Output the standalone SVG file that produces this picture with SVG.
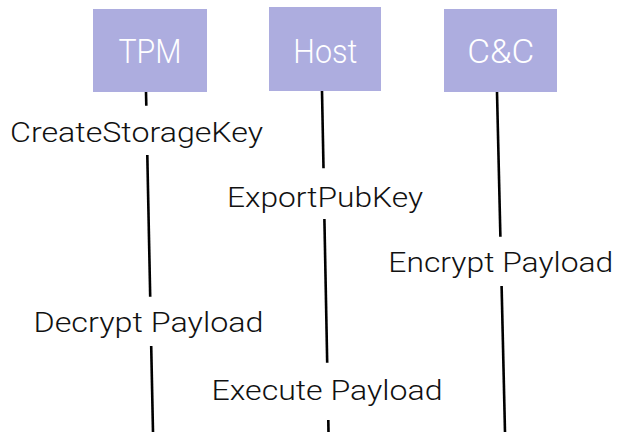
<svg xmlns="http://www.w3.org/2000/svg" width="617" height="432" viewBox="0 0 617 432">
  <style>
    .actor rect { fill: #ADADDF; }
    .actor text { fill: #FFFFFF; font-family: "Roboto", "Helvetica Neue", "Liberation Sans", Arial, sans-serif; font-weight: 300; font-size: 33px; text-anchor: middle; }
    .step text { fill: #111111; font-family: "Roboto", "Helvetica Neue", "Liberation Sans", Arial, sans-serif; font-weight: 300; font-size: 28px; }
    .lifeline line { stroke: #000000; stroke-width: 2.6; stroke-linecap: butt; }
  </style>

  <rect width="617" height="432" fill="#FFFFFF"/>

  <!-- lifelines, broken where the step labels sit -->
  <g id="connectors" class="lifeline">
    <line x1="146" y1="92" x2="146.3" y2="105.7"/>
    <line x1="147.3" y1="155" x2="150.2" y2="296.7"/>
    <line x1="151.2" y1="346" x2="153" y2="432"/>

    <line x1="322" y1="91" x2="323.5" y2="168.3"/>
    <line x1="324.4" y1="219" x2="327.2" y2="362.7"/>
    <line x1="328.3" y1="420" x2="328.5" y2="432"/>

    <line x1="497" y1="92" x2="500.4" y2="236.7"/>
    <line x1="501.6" y1="286" x2="505" y2="432"/>
  </g>

  <!-- participants -->
  <g id="tpm" class="actor">
    <rect x="93" y="9" width="114" height="83"/>
    <text x="150" y="63.3" textLength="63" lengthAdjust="spacingAndGlyphs">TPM</text>
  </g>
  <g id="host" class="actor">
    <rect x="269" y="7" width="112" height="84"/>
    <text x="325.3" y="62.5" textLength="64" lengthAdjust="spacingAndGlyphs">Host</text>
  </g>
  <g id="cnc" class="actor">
    <rect x="444" y="9" width="113" height="83"/>
    <text x="500.7" y="63.3" textLength="67" lengthAdjust="spacingAndGlyphs">C&amp;C</text>
  </g>

  <!-- steps -->
  <g id="create-storage-key" class="step">
    <text x="10" y="141.7" textLength="253" lengthAdjust="spacingAndGlyphs">CreateStorageKey</text>
  </g>
  <g id="export-pub-key" class="step">
    <text x="227" y="206.7" textLength="196" lengthAdjust="spacingAndGlyphs">ExportPubKey</text>
  </g>
  <g id="encrypt-payload" class="step">
    <text x="388.3" y="272" textLength="225" lengthAdjust="spacingAndGlyphs">Encrypt Payload</text>
  </g>
  <g id="decrypt-payload" class="step">
    <text x="33.5" y="332.3" textLength="230" lengthAdjust="spacingAndGlyphs">Decrypt Payload</text>
  </g>
  <g id="execute-payload" class="step">
    <text x="211.5" y="399.5" textLength="231" lengthAdjust="spacingAndGlyphs">Execute Payload</text>
  </g>
</svg>
